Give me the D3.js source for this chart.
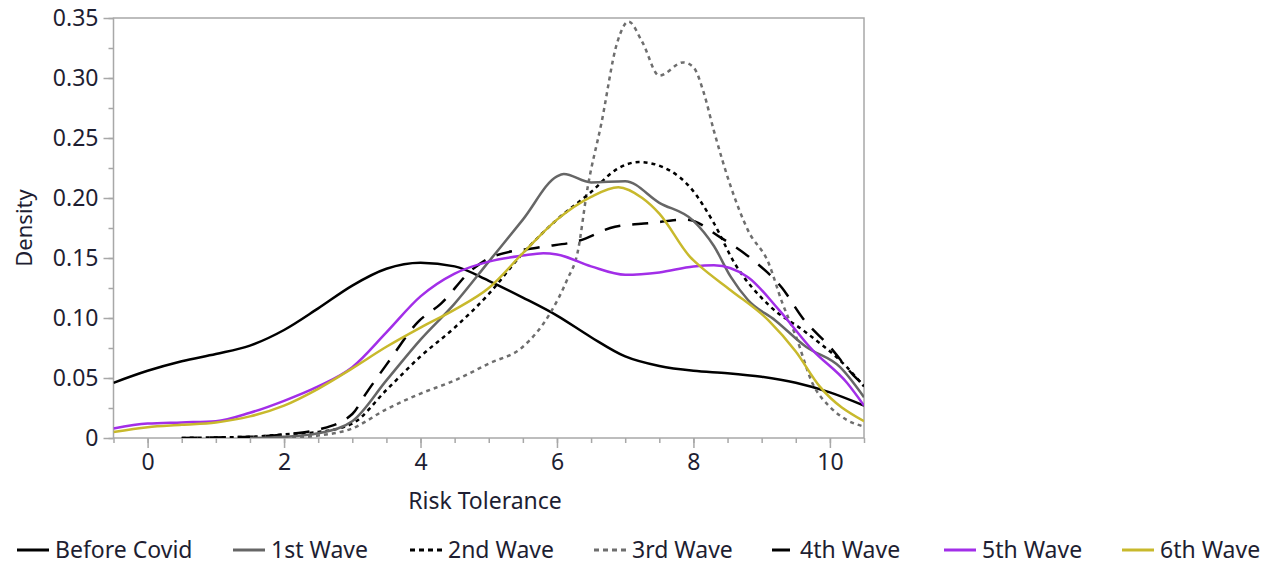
<!DOCTYPE html>
<html>
<head>
<meta charset="utf-8">
<script src="https://cdn.jsdelivr.net/npm/d3@7"></script>
<style>
  body { margin: 0; background: #fff; }
  svg text { font-family: "Noto Sans", "Open Sans", sans-serif; fill: #1e1e32; }
</style>
</head>
<body>
<div id="chart-area"></div>
<script>
// Risk tolerance density curves
const beforeX = [-0.5, 0, 0.5, 1, 1.5, 2, 2.5, 3, 3.5, 4, 4.5, 5, 5.5, 6, 6.5, 7, 7.5, 8, 8.5, 9, 9.5, 10, 10.5]
const beforeY = [0.046, 0.056, 0.064, 0.070, 0.077, 0.090, 0.108, 0.127, 0.141, 0.146, 0.143, 0.131, 0.117, 0.102, 0.084, 0.068, 0.060, 0.056, 0.054, 0.051, 0.046, 0.038, 0.027]

const wave1X = [1.5, 2, 2.5, 3, 3.5, 4, 4.5, 5, 5.5, 6, 6.1, 6.5, 7, 7.5, 8, 8.3, 8.55, 8.8, 9.2, 9.65, 10.15, 10.5]
const wave1Y = [0, 0.001, 0.004, 0.014, 0.048, 0.082, 0.112, 0.147, 0.182, 0.218, 0.22, 0.213, 0.214, 0.196, 0.181, 0.16, 0.134, 0.115, 0.098, 0.076, 0.059, 0.034]

const wave2X = [0.5, 1, 1.5, 2, 2.5, 3, 3.5, 4, 4.5, 5, 5.5, 6, 6.5, 6.85, 7.2, 7.65, 7.95, 8.3, 8.6, 9.1, 9.65, 10.25, 10.5]
const wave2Y = [0, 0.0005, 0.001, 0.003, 0.005, 0.012, 0.04, 0.068, 0.092, 0.12, 0.154, 0.182, 0.205, 0.223, 0.23, 0.223, 0.209, 0.179, 0.146, 0.111, 0.088, 0.059, 0.043]

const wave3X = [2, 2.5, 3, 3.5, 4, 4.5, 5, 5.5, 5.9, 6.15, 6.3, 6.45, 6.65, 6.88, 7.05, 7.25, 7.5, 7.85, 8.0, 8.15, 8.3, 8.55, 8.8, 9.1, 9.3, 9.5, 9.75, 10, 10.25, 10.5]
const wave3Y = [0, 0.002, 0.008, 0.024, 0.037, 0.048, 0.062, 0.076, 0.104, 0.132, 0.154, 0.209, 0.262, 0.329, 0.347, 0.33, 0.302, 0.313, 0.309, 0.288, 0.256, 0.209, 0.173, 0.146, 0.113, 0.085, 0.045, 0.026, 0.015, 0.0095]

const wave4X = [0.5, 1, 1.5, 2, 2.5, 3, 3.2, 3.55, 3.95, 4.3, 4.75, 5.05, 5.75, 6.3, 6.85, 7.35, 7.9, 8.4, 8.9, 9.3, 9.6, 10, 10.35, 10.5]
const wave4Y = [0, 0.0005, 0.001, 0.003, 0.007, 0.02, 0.037, 0.065, 0.096, 0.112, 0.14, 0.151, 0.159, 0.164, 0.176, 0.179, 0.182, 0.167, 0.147, 0.125, 0.1, 0.076, 0.052, 0.044]

const wave5X = [-0.5, 0, 0.5, 1, 1.5, 2, 2.5, 3, 3.5, 4, 4.5, 5, 5.5, 5.8, 6, 6.5, 7, 7.5, 8, 8.3, 8.8, 9.25, 9.75, 10.25, 10.5]
const wave5Y = [0.008, 0.012, 0.013, 0.014, 0.021, 0.031, 0.043, 0.059, 0.088, 0.118, 0.137, 0.147, 0.152, 0.154, 0.153, 0.143, 0.136, 0.138, 0.143, 0.144, 0.134, 0.107, 0.073, 0.046, 0.027]

const wave6X = [-0.5, 0, 0.5, 1, 1.5, 2, 2.5, 3, 3.5, 4, 4.5, 5, 5.5, 6, 6.5, 6.9, 7.25, 7.5, 7.95, 8.1, 8.55, 9.1, 9.5, 9.85, 10.5]
const wave6Y = [0.005, 0.009, 0.011, 0.013, 0.018, 0.027, 0.041, 0.058, 0.076, 0.092, 0.107, 0.125, 0.154, 0.182, 0.201, 0.209, 0.2, 0.187, 0.151, 0.143, 0.123, 0.098, 0.072, 0.043, 0.014]

const seriesNames = ["Before Covid", "1st Wave", "2nd Wave", "3rd Wave", "4th Wave", "5th Wave", "6th Wave"]
const seriesX = [beforeX, wave1X, wave2X, wave3X, wave4X, wave5X, wave6X]
const seriesY = [beforeY, wave1Y, wave2Y, wave3Y, wave4Y, wave5Y, wave6Y]

const xTicks = [0, 2, 4, 6, 8, 10]
const yTicks = [0, 0.05, 0.10, 0.15, 0.20, 0.25, 0.30, 0.35]
const yTickLabels = ["0", "0.05", "0.10", "0.15", "0.20", "0.25", "0.30", "0.35"]

const styles = [
  { color: "#000", width: 2.5, dash: null },
  { color: "#666", width: 2.5, dash: null },
  { color: "#000", width: 2.5, dash: "4,4" },
  { color: "#6e6e6e", width: 2.5, dash: "4,4" },
  { color: "#000", width: 2.5, dash: "16,12" },
  { color: "#a22ee8", width: 2.5, dash: null },
  { color: "#c8b92c", width: 2.5, dash: null }
]
const legendX = [17, 233, 410, 594, 759, 944, 1122]
const legendDash = [null, null, "5,4", "5,4", "15,0", null, null]

const W = 1284, H = 565
const PLOT = { LEFT: 113.5, RIGHT: 864, TOP: 18, BOTTOM: 438 }

const svg = d3.select('#chart-area')
    .append('svg')
    .attr('width', W)
    .attr('height', H)

const x = d3.scaleLinear()
    .domain([-0.5, 10.5])
    .range([PLOT.LEFT, PLOT.RIGHT])

const y = d3.scaleLinear()
    .domain([0, 0.35])
    .range([PLOT.BOTTOM, PLOT.TOP])

svg.append('clipPath').attr('id', 'clip')
  .append('rect')
    .attr('x', PLOT.LEFT).attr('y', PLOT.TOP)
    .attr('width', PLOT.RIGHT - PLOT.LEFT).attr('height', PLOT.BOTTOM - PLOT.TOP)

// frame
svg.append('rect')
    .attr('x', PLOT.LEFT).attr('y', PLOT.TOP)
    .attr('width', PLOT.RIGHT - PLOT.LEFT).attr('height', PLOT.BOTTOM - PLOT.TOP)
    .attr('fill', 'none').attr('stroke', '#a8a8a8').attr('stroke-width', 1.5)

// minor ticks
const xMinor = d3.range(-0.5, 10.51, 0.5)
const yMinor = d3.range(0, 0.351, 0.025)

const gxMinor = svg.append('g')
    .attr('transform', `translate(0, ${PLOT.BOTTOM})`)
    .call(d3.axisBottom(x).tickValues(xMinor).tickSize(5).tickFormat(''))
const gyMinor = svg.append('g')
    .attr('transform', `translate(${PLOT.LEFT}, 0)`)
    .call(d3.axisLeft(y).tickValues(yMinor).tickSize(5).tickFormat(''))

const gx = svg.append('g')
    .attr('transform', `translate(0, ${PLOT.BOTTOM})`)
    .call(d3.axisBottom(x).tickValues(xTicks).tickSize(10).tickPadding(6).tickFormat(d3.format('d')))
const gy = svg.append('g')
    .attr('transform', `translate(${PLOT.LEFT}, 0)`)
    .call(d3.axisLeft(y).tickValues(yTicks).tickSize(10).tickPadding(5).tickFormat((d, i) => yTickLabels[i]))

for (const g of [gx, gy, gxMinor, gyMinor]) {
  g.select('.domain').remove()
  g.selectAll('line').attr('stroke', '#a8a8a8').attr('stroke-width', 1.5)
  g.selectAll('text').attr('font-size', 23).attr('fill', '#1e1e32')
}

// curves
const line = d3.line()
    .x(d => x(d[0]))
    .y(d => y(d[1]))
    .curve(d3.curveMonotoneX)

const plot = svg.append('g').attr('clip-path', 'url(#clip)')
const drawOrder = [0, 3, 2, 4, 1, 5, 6]
drawOrder.forEach(i => {
  const pts = seriesX[i].map((v, j) => [v, seriesY[i][j]])
  plot.append('path')
      .datum(pts)
      .attr('d', line)
      .attr('fill', 'none')
      .attr('stroke', styles[i].color)
      .attr('stroke-width', styles[i].width)
      .attr('stroke-dasharray', styles[i].dash)
})

// axis titles
svg.append('text')
    .attr('x', 485)
    .attr('y', 509)
    .attr('text-anchor', 'middle')
    .attr('font-size', 23)
    .text('Risk Tolerance')

svg.append('text')
    .attr('transform', 'translate(32, 228) rotate(-90)')
    .attr('text-anchor', 'middle')
    .attr('font-size', 22)
    .text('Density')

// legend
const leg = svg.append('g')
seriesNames.forEach((name, i) => {
  const lx = legendX[i]
  const item = leg.append('g').attr('transform', `translate(${lx}, 550)`)
  if (i === 4) {
    item.append('line').attr('x1', 13).attr('x2', 31).attr('y1', 0).attr('y2', 0)
        .attr('stroke', styles[i].color).attr('stroke-width', 3)
  } else {
    item.append('line').attr('x1', 0).attr('x2', 32).attr('y1', 0).attr('y2', 0)
        .attr('stroke', styles[i].color).attr('stroke-width', 3)
        .attr('stroke-dasharray', legendDash[i])
  }
  item.append('text')
      .attr('x', i === 4 ? 41 : 38)
      .attr('y', 8)
      .attr('font-size', 23)
      .text(name)
})
</script>
</body>
</html>
